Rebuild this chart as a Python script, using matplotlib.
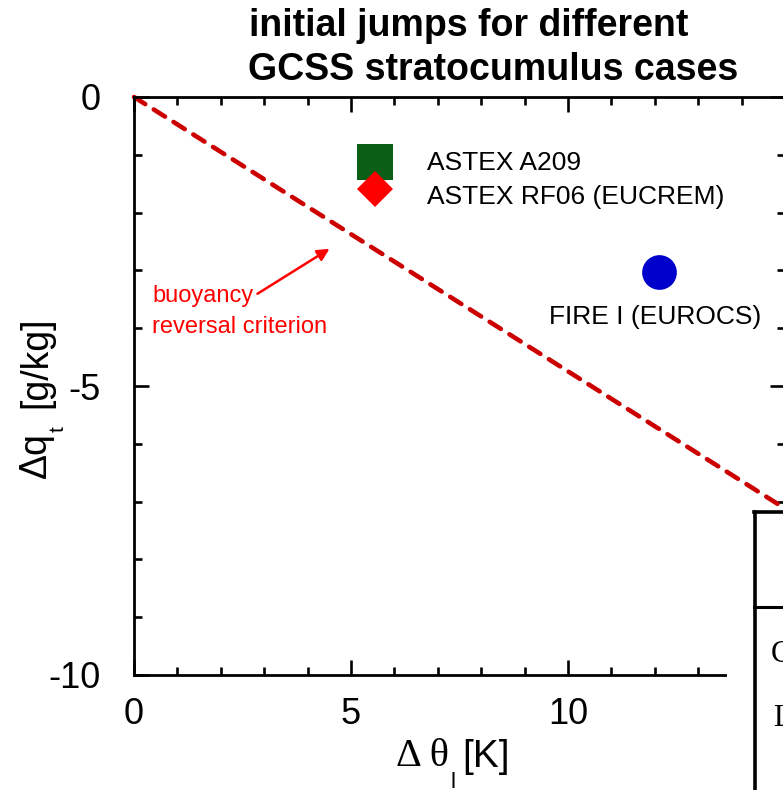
import matplotlib
matplotlib.use("Agg")
import matplotlib.pyplot as plt
from matplotlib.patches import Rectangle
from matplotlib.lines import Line2D
import numpy as np

plt.rcParams['font.family'] = ['Liberation Sans', 'DejaVu Sans']
plt.rcParams['axes.unicode_minus'] = False

# ---- data ----
cases = ["ASTEX A209", "ASTEX RF06 (EUCREM)", "FIRE I (EUROCS)"]
d_theta = [5.55, 5.55, 12.1]     # K
d_qt = [-1.13, -1.6, -3.03]      # g/kg
markers = ["s", "D", "o"]
colors = ["#0b5e16", "#ff0000", "#0000cc"]
msizes = [26, 18, 25]

crit_theta = [0.0, 15.0]
crit_qt = [0.0, -7.12]

xticks_major = [0, 5, 10, 15]
xticklabels = ["0", "5", "10", ""]
yticks_major = [-10, -5, 0]
yticklabels = ["-10", "-5", "0"]

W, H = 783, 790
fig = plt.figure(figsize=(W / 100, H / 100), dpi=100)

def fx(px):
    return px / W

def fy(py):
    return 1 - py / H

ax = fig.add_axes([fx(134), fy(675), fx(785) - fx(134), fy(97) - fy(675)])
ax.set_xlim(0, 15)
ax.set_ylim(-10, 0)

ax.plot(crit_theta, crit_qt, color="#cc0000", lw=3.3, dashes=(2.9, 2.2),
        dash_capstyle="round", zorder=2, clip_on=False)

for x, y, m, c, s in zip(d_theta, d_qt, markers, colors, msizes):
    ax.plot([x], [y], marker=m, color=c, markersize=s, linestyle="none",
            markeredgewidth=0, zorder=3)

ax.set_xticks(xticks_major)
ax.set_xticklabels(xticklabels)
ax.set_yticks(yticks_major)
ax.set_yticklabels(yticklabels)
ax.set_xticks(np.arange(0, 16, 1), minor=True)
ax.set_yticks(np.arange(-10, 1, 1), minor=True)
ax.tick_params(which="both", direction="in", top=True, right=True, width=1.9,
               labelsize=26, colors="black")
ax.tick_params(which="major", length=11)
ax.tick_params(which="minor", length=6)
ax.tick_params(axis="x", which="major", pad=16)
ax.tick_params(axis="y", which="major", pad=24)
for sp in ax.spines.values():
    sp.set_linewidth(2.0)

# case labels
fig.text(fx(427), fy(170), cases[0], fontsize=19, ha="left", va="baseline")
fig.text(fx(427), fy(204), cases[1], fontsize=19, ha="left", va="baseline")
fig.text(fx(549), fy(324), cases[2], fontsize=19, ha="left", va="baseline")

# criterion annotation
fig.text(fx(152), fy(302), "buoyancy", fontsize=17, color="#ff0000",
         ha="left", va="baseline")
fig.text(fx(152), fy(333), "reversal criterion", fontsize=17, color="#ff0000",
         ha="left", va="baseline")
ax.annotate("", xy=(4.56, -2.6), xytext=(2.79, -3.43),
            arrowprops=dict(arrowstyle="-|>", color="#ff0000", lw=1.8,
                            mutation_scale=18))

# title
fig.text(fx(249), fy(36), "initial jumps for different", fontsize=27,
         fontweight="bold", ha="left", va="baseline")
fig.text(fx(248), fy(80), "GCSS stratocumulus cases", fontsize=27,
         fontweight="bold", ha="left", va="baseline")

# x label
fig.text(fx(396), fy(766), "\u0394 \u03b8", fontsize=29,
         family=["Liberation Serif", "DejaVu Serif"], ha="left", va="baseline")
fig.text(fx(451), fy(788), "l", fontsize=16, ha="left", va="baseline")
fig.text(fx(462), fy(767), "[K]", fontsize=28, ha="left", va="baseline")

# y label
fig.text(fx(36), fy(478), "\u0394q", fontsize=27, rotation=90,
         ha="center", va="bottom")
fig.text(fx(58), fy(429), "t", fontsize=15, rotation=90,
         ha="center", va="center")
fig.text(fx(36), fy(317), "[g/kg]", fontsize=27, rotation=90,
         ha="center", va="top")

# overlapping table fragment at bottom-right
fig.patches.append(Rectangle((fx(727), 0), 1 - fx(727), fy(507),
                             transform=fig.transFigure, facecolor="white",
                             edgecolor="none", zorder=10))
fig.lines.append(Line2D([fx(755), fx(755)], [0, fy(512)], color="black",
                        lw=2.6, transform=fig.transFigure, zorder=11))
fig.lines.append(Line2D([fx(754), 1], [fy(512), fy(512)], color="black",
                        lw=2.6, transform=fig.transFigure, zorder=11))
fig.lines.append(Line2D([fx(754), 1], [fy(607), fy(607)], color="black",
                        lw=2.2, transform=fig.transFigure, zorder=11))
fig.text(fx(771), fy(655), "C", fontsize=22,
         family=["Liberation Serif"], ha="left", va="center", zorder=12)
fig.text(fx(773), fy(718), "L", fontsize=22,
         family=["Liberation Serif"], ha="left", va="center", zorder=12)

fig.savefig("out.png", dpi=100)
